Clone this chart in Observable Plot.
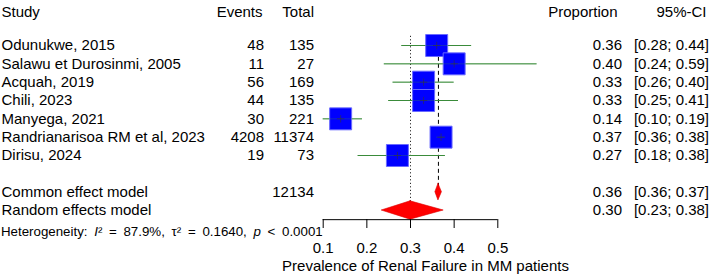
<!DOCTYPE html>
<html><head><meta charset="utf-8">
<script src="https://cdn.jsdelivr.net/npm/d3@7"></script>
<script src="https://cdn.jsdelivr.net/npm/@observablehq/plot@0.6"></script>
<style>body{margin:0;background:#fff;} svg{display:block}</style>
</head><body><div id="chart"></div>
<script>
const studies = ["Odunukwe, 2015", "Salawu et Durosinmi, 2005", "Acquah, 2019", "Chili, 2023", "Manyega, 2021", "Randrianarisoa RM et al, 2023", "Dirisu, 2024"];
const events = [48, 11, 56, 44, 30, 4208, 19];
const totals = [135, 27, 169, 135, 221, 11374, 73];
const proportions = [0.36, 0.40, 0.33, 0.33, 0.14, 0.37, 0.27];
const lowers = [0.28, 0.24, 0.26, 0.25, 0.10, 0.36, 0.18];
const uppers = [0.44, 0.59, 0.40, 0.41, 0.19, 0.38, 0.38];
const models = ["Common effect model", "Random effects model"];
const modelTotals = [12134, null];
const modelEst = [0.364, 0.300];
const modelLower = [0.357, 0.234];
const modelUpper = [0.372, 0.376];
const headers = ["Study", "Events", "Total", "Proportion", "95%-CI"];
const axisTicks = [0.1, 0.2, 0.3, 0.4, 0.5];
const xLabel = "Prevalence of Renal Failure in MM patients";
const hetText = "Heterogeneity: I² = 87.9%, τ² = 0.1640, p < 0.0001";

const f2 = d => d.toFixed(2);
const studyRows = studies.map((s, i) => ({
  row: i + 1, study: s, events: String(events[i]), total: String(totals[i]),
  prop: f2(proportions[i]), ci: `[${f2(lowers[i])}; ${f2(uppers[i])}]`,
  est: proportions[i], lo: lowers[i], hi: uppers[i]
}));
const modelRows = models.map((m, i) => ({
  row: studies.length + 2 + i, study: m, events: "", total: modelTotals[i] == null ? "" : String(modelTotals[i]),
  prop: f2(modelEst[i]), ci: `[${f2(modelLower[i])}; ${f2(modelUpper[i])}]`,
  est: modelEst[i], lo: modelLower[i], hi: modelUpper[i], h: i === 0 ? 0.45 : 0.5
}));
const allRows = studyRows.concat(modelRows);
const hetRow = studies.length + 4;
const diamondPts = modelRows.flatMap(d => [
  {m: d.study, y: d.row - d.h, x1: d.est, x2: d.est},
  {m: d.study, y: d.row, x1: d.lo, x2: d.hi},
  {m: d.study, y: d.row + d.h, x1: d.est, x2: d.est}
]);
const commonRow = modelRows[0], randomRow = modelRows[1];

const font = "'Liberation Sans', Arial, Helvetica, sans-serif";
const green = "#3a8c3a";

const plot = Plot.plot({
  width: 709, height: 275,
  marginLeft: 0, marginRight: 0, marginTop: 0, marginBottom: 56,
  style: {fontFamily: font, fontSize: "15px", background: "white", color: "black"},
  x: {domain: [0.1, 0.5], range: [322.7, 497.3]},
  y: {domain: [1, 10], range: [45, 210], axis: null},
  marks: [
    Plot.ruleX([randomRow], {x: "est", y1: 0.5, y2: "row", stroke: "black", strokeWidth: 1, strokeDasharray: "1,2.5"}),
    Plot.ruleX([commonRow], {x: "est", y1: 0.5, y2: "row", stroke: "black", strokeWidth: 1, strokeDasharray: "4,3"}),
    Plot.ruleY(studyRows, {y: "row", x1: "lo", x2: "hi", stroke: green, strokeWidth: 1}),
    Plot.dot(studyRows, {x: "est", y: "row", symbol: "square", r: 12.4, fill: "#0000ff", stroke: "#6a6aff", strokeWidth: 1}),
    Plot.ruleY(studyRows, {y: "row", x1: "lo", x2: "hi", stroke: green, strokeWidth: 1, strokeOpacity: 0.3}),
    Plot.dot(studyRows, {x: "est", y: "row", symbol: "plus", r: 2.5, stroke: "#333", strokeWidth: 1, strokeOpacity: 0.6}),
    Plot.areaX(diamondPts, {y: "y", x1: "x1", x2: "x2", z: "m", fill: "#ff0000", stroke: "#dd0000", strokeWidth: 0.6}),
    Plot.ruleY([randomRow], {y: d => d.row + 0.5, x1: d3.min(axisTicks), x2: d3.max(axisTicks), stroke: "black", strokeWidth: 1}),
    Plot.axisX({ticks: axisTicks, tickSize: 9, tickPadding: 14, tickFormat: d3.format(".1f"), fontSize: 15, label: null}),
    Plot.text([xLabel], {x: d3.mean(axisTicks), frameAnchor: "bottom", dx: 15, dy: 46.5, textAnchor: "middle", lineAnchor: "middle", fontSize: 15, text: d => d}),
    // header
    Plot.text([headers[0]], {frameAnchor: "top-left", dx: 1, dy: 12, textAnchor: "start", lineAnchor: "middle", fontSize: 15, text: d => d}),
    Plot.text([headers[1]], {frameAnchor: "top-left", dx: 262, dy: 12, textAnchor: "end", lineAnchor: "middle", fontSize: 15, text: d => d}),
    Plot.text([headers[2]], {frameAnchor: "top-left", dx: 313.5, dy: 12, textAnchor: "end", lineAnchor: "middle", fontSize: 15, text: d => d}),
    Plot.text([headers[3]], {frameAnchor: "top-right", dx: -92, dy: 12, textAnchor: "end", lineAnchor: "middle", fontSize: 15, text: d => d}),
    Plot.text([headers[4]], {frameAnchor: "top-right", dx: -3, dy: 12, textAnchor: "end", lineAnchor: "middle", fontSize: 15, text: d => d}),
    // columns
    Plot.text(allRows, {y: "row", text: "study", frameAnchor: "left", dx: 1, textAnchor: "start", lineAnchor: "middle", fontSize: 15}),
    Plot.text(allRows, {y: "row", text: "events", frameAnchor: "left", dx: 263.5, textAnchor: "end", lineAnchor: "middle", fontSize: 15}),
    Plot.text(allRows, {y: "row", text: "total", frameAnchor: "left", dx: 313.5, textAnchor: "end", lineAnchor: "middle", fontSize: 15}),
    Plot.text(allRows, {y: "row", text: "prop", frameAnchor: "right", dx: -87.5, textAnchor: "end", lineAnchor: "middle", fontSize: 15}),
    Plot.text(allRows, {y: "row", text: "ci", frameAnchor: "right", dx: -0.5, textAnchor: "end", lineAnchor: "middle", fontSize: 15}),
    Plot.text([hetText], {y: hetRow, text: d => d, frameAnchor: "left", dx: 0.5, dy: 3, textAnchor: "start", lineAnchor: "middle", fontSize: 13.3, className: "hetstat"})
  ]
});

// italicize the statistic symbols I and p, widen spacing like R plotmath
plot.querySelectorAll(".hetstat text").forEach(t => {
  const s = t.textContent;
  const parts = s.split(/\b([Ip])\b/);
  t.textContent = "";
  t.setAttribute("word-spacing", "3");
  parts.forEach((p, i) => {
    const ts = document.createElementNS("http://www.w3.org/2000/svg", "tspan");
    ts.textContent = p;
    if (i % 2 === 1) ts.setAttribute("font-style", "italic");
    t.appendChild(ts);
  });
});

document.getElementById("chart").appendChild(plot);
</script>
</body></html>
